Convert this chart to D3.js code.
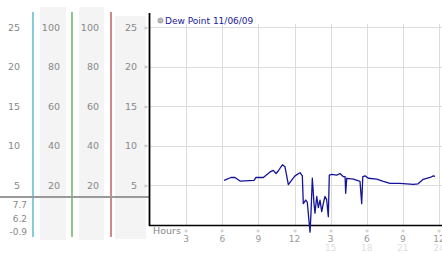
<!DOCTYPE html>
<html>
<head>
<meta charset="utf-8">
<script src="https://cdn.jsdelivr.net/npm/d3@7"></script>
<style>
  body { margin: 0; background: #fff; }
  text { font-family: "DejaVu Sans", Verdana, sans-serif; }
</style>
</head>
<body>
<div id="svg-container"></div>
<script>
// dew point readings, hour of day and degrees
const hours = [6.15, 6.73, 7.06, 7.47, 8.64, 8.8, 9.41, 9.97, 10.24, 10.47, 10.66, 10.99, 11.21, 11.49, 11.69,
  12.04, 12.46, 12.65, 12.73, 12.93, 13.06, 13.21, 13.29, 13.37, 13.48, 13.62, 13.7, 13.85, 13.98, 14.12,
  14.26, 14.39, 14.53, 14.67, 14.81, 14.89, 15.09, 15.51, 15.78, 16.06, 16.2, 16.25, 16.34, 16.89, 17.44,
  17.58, 17.67, 17.86, 18.13, 18.83, 19.38, 19.93, 20.76, 21.87, 22.26, 22.69, 23.26, 23.53, 23.67];
const dewPoint = [5.64, 6.0, 6.0, 5.55, 5.64, 6.0, 6.0, 6.7, 6.9, 6.5, 6.85, 7.6, 7.35, 5.1, 5.5,
  6.2, 6.6, 6.2, 2.7, 3.15, 2.9, 0.4, -0.9, 1.5, 5.9, 2.7, 1.5, 3.6, 2.2, 3.15,
  1.7, 2.7, 3.6, 3.2, 1.05, 6.3, 6.4, 6.3, 6.5, 6.1, 6.1, 4.0, 5.9, 5.8, 5.5,
  2.7, 6.1, 6.2, 5.9, 5.8, 5.5, 5.26, 5.26, 5.14, 5.2, 5.77, 6.0, 6.2, 6.15];

// tick labels
const hourTicks = [3, 6, 9, 12, 15, 18, 21, 24];
const hourLabels = ['3', '6', '9', '12', '3', '6', '9', '12'];
const hourLabels24 = ['', '', '', '', '15', '18', '21', '24'];
const tempTicks = [5, 10, 15, 20, 25];
const pctTicks = [20, 40, 60, 80, 100];

// summary numbers under the left panel (max, avg, min)
const summary = ['7.7', '6.2', '-0.9'];
const title = 'Dew Point 11/06/09';

const svg = d3
.select('#svg-container')
.append('svg')
.attr('width', 442)
.attr('height', 253)
.style('display', 'block');

const x = d3.scaleLinear().domain([0, 24]).range([150, 439]);
const y = d3.scaleLinear().domain([0, 25]).range([225, 27]);
const yPct = d3.scaleLinear().domain([0, 100]).range([225, 27]);

const labelColor = '#888';

// grey backgrounds of the side columns
const panels = [[40, 7, 26, 233], [79, 7, 25, 233], [115, 16, 31, 223]];
svg.selectAll('rect.panel')
.data(panels)
.enter()
.append('rect')
.attr('class', 'panel')
.attr('x', (d) => d[0])
.attr('y', (d) => d[1])
.attr('width', (d) => d[2])
.attr('height', (d) => d[3])
.attr('fill', '#f4f4f4');

// the coloured scale lines
const bars = [[33, '#3aa7c6'], [72, '#3aa43a'], [111, '#b03a3a']];
svg.selectAll('line.bar')
.data(bars)
.enter()
.append('line')
.attr('x1', (d) => d[0])
.attr('x2', (d) => d[0])
.attr('y1', 12)
.attr('y2', 237)
.attr('stroke', (d) => d[1])
.attr('stroke-width', 1.2);

// column labels
const columns = [
  { x: 20, ticks: tempTicks, scale: y },
  { x: 60, ticks: pctTicks, scale: yPct },
  { x: 99, ticks: pctTicks, scale: yPct },
  { x: 137, ticks: tempTicks, scale: y }
];
columns.forEach((c) => {
  svg.append('g')
  .selectAll('text')
  .data(c.ticks)
  .enter()
  .append('text')
  .attr('x', c.x)
  .attr('y', (d) => c.scale(d) + 3.5)
  .attr('text-anchor', 'end')
  .attr('font-size', 9.5)
  .attr('fill', labelColor)
  .text((d) => d);
});

// horizontal grey line and summary values
svg.append('line')
.attr('x1', 0)
.attr('x2', 149)
.attr('y1', 197)
.attr('y2', 197)
.attr('stroke', '#9a9a9a')
.attr('stroke-width', 2);

svg.append('g')
.selectAll('text')
.data(summary)
.enter()
.append('text')
.attr('x', 27)
.attr('y', (d, i) => 208 + i * 13.5)
.attr('text-anchor', 'end')
.attr('font-size', 9)
.attr('fill', labelColor)
.text((d) => d);

// grid
const grid = svg.append('g').attr('stroke', '#dcdcdc').attr('stroke-width', 1);
grid.selectAll('line.h')
.data(tempTicks)
.enter()
.append('line')
.attr('x1', 149)
.attr('x2', 442)
.attr('y1', (d) => Math.round(y(d)) + 0.5)
.attr('y2', (d) => Math.round(y(d)) + 0.5);
grid.selectAll('line.v')
.data(hourTicks)
.enter()
.append('line')
.attr('x1', (d) => Math.round(x(d)) + 0.5)
.attr('x2', (d) => Math.round(x(d)) + 0.5)
.attr('y1', 24)
.attr('y2', 225);

// little tick marks beside the left axis
svg.append('g')
.selectAll('text')
.data(tempTicks)
.enter()
.append('text')
.attr('x', 146)
.attr('y', (d) => y(d) + 2.5)
.attr('text-anchor', 'middle')
.attr('font-size', 7)
.attr('fill', '#aaa')
.text('»');

// axes
svg.append('line')
.attr('x1', 149.5).attr('x2', 149.5)
.attr('y1', 13).attr('y2', 226)
.attr('stroke', '#000').attr('stroke-width', 1.8);
svg.append('line')
.attr('x1', 149).attr('x2', 442)
.attr('y1', 225.5).attr('y2', 225.5)
.attr('stroke', '#000').attr('stroke-width', 1.4);

// x axis labels
svg.append('text')
.attr('x', 153)
.attr('y', 234)
.attr('font-size', 9.5)
.attr('fill', labelColor)
.text('Hours');

const xTicks = svg.append('g');
xTicks.selectAll('text.mark')
.data(hourTicks)
.enter()
.append('text')
.attr('x', (d) => x(d))
.attr('y', 233)
.attr('text-anchor', 'middle')
.attr('font-size', 7)
.attr('fill', '#aaa')
.attr('transform', (d) => `rotate(90, ${x(d)}, 231)`)
.text('»');
xTicks.selectAll('text.h12')
.data(hourTicks)
.enter()
.append('text')
.attr('x', (d) => x(d))
.attr('y', 241.5)
.attr('text-anchor', 'middle')
.attr('font-size', 9)
.attr('fill', '#999')
.text((d, i) => hourLabels[i]);
xTicks.selectAll('text.h24')
.data(hourTicks)
.enter()
.append('text')
.attr('x', (d) => x(d))
.attr('y', 251)
.attr('text-anchor', 'middle')
.attr('font-size', 9)
.attr('fill', '#dedede')
.text((d, i) => hourLabels24[i]);

// title with legend dot
svg.append('circle')
.attr('cx', 160.5)
.attr('cy', 20.5)
.attr('r', 2.6)
.attr('fill', '#bbb')
.attr('stroke', '#888')
.attr('stroke-width', 0.6);
svg.append('text')
.attr('x', 165)
.attr('y', 24)
.attr('font-size', 9)
.attr('fill', '#1a1a9a')
.text(title);

// the dew point line
const line = d3.line()
.x((d, i) => x(hours[i]))
.y((d) => y(d));

svg.append('path')
.datum(dewPoint)
.attr('d', line)
.attr('fill', 'none')
.attr('stroke', '#14149a')
.attr('stroke-width', 1.3)
.attr('stroke-linejoin', 'round');
</script>
</body>
</html>
